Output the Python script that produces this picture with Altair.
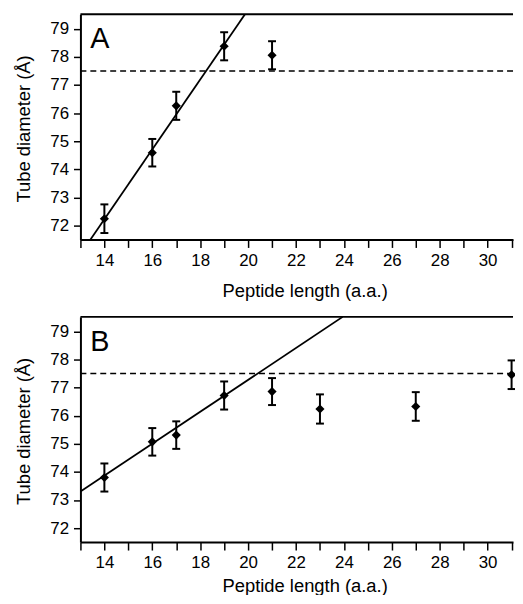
import altair as alt
import pandas as pd

# axis ranges
X_MIN, X_MAX = 13, 31.06
Y_MIN, Y_MAX = 71.5, 79.52

# Panel A
a_len = [14, 16, 17, 19, 21]
a_diam = [72.24, 74.59, 76.26, 78.38, 78.06]
a_err = [0.51, 0.49, 0.50, 0.50, 0.50]
a_fit_len = [13.42, 19.87]
a_fit_diam = [71.5, 79.52]

# Panel B
b_len = [14, 16, 17, 19, 21, 23, 27, 31]
b_diam = [73.80, 75.07, 75.31, 76.72, 76.86, 76.24, 76.33, 77.46]
b_err = [0.50, 0.49, 0.49, 0.50, 0.48, 0.52, 0.51, 0.51]
b_fit_len = [13.0, 23.95]
b_fit_diam = [73.30, 79.52]

plateau = 77.5
x_ticks = list(range(13, 32))
y_ticks = list(range(72, 80))

FONT = "Liberation Sans"
W, H = 436, 227


def panel(letter, lens, diam, err, fit_len, fit_diam, x_title_y):
    pts = pd.DataFrame({
        "len": lens,
        "d": diam,
        "lo": [d - e for d, e in zip(diam, err)],
        "hi": [d + e for d, e in zip(diam, err)],
    })
    fit = pd.DataFrame({"len": fit_len, "d": fit_diam})

    xs = alt.Scale(domain=[X_MIN, X_MAX], nice=False, zero=False)
    ys = alt.Scale(domain=[Y_MIN, Y_MAX], nice=False, zero=False)
    xaxis = alt.Axis(values=x_ticks,
                     labelExpr="datum.value % 2 == 0 ? datum.label : ''",
                     labelOverlap=False,
                     title="Peptide length (a.a.)", titleX=226, titleY=x_title_y,
                     titleAlign="center",
                     tickSize=8, labelPadding=5, grid=False)
    yaxis = alt.Axis(values=y_ticks, title="Tube diameter (Å)", labelOverlap=False,
                     tickCount=8, format="d",
                     titleX=-47, titleY=115, titleAlign="center",
                     tickSize=7, labelPadding=5, grid=False)

    X = alt.X("len:Q", scale=xs, axis=xaxis)

    def Y(field):
        return alt.Y(field, scale=ys, axis=yaxis)

    bars = alt.Chart(pts).mark_rule(color="black", strokeWidth=2).encode(
        x=X, y=Y("lo:Q"), y2="hi:Q")
    cap_lo = alt.Chart(pts).mark_tick(orient="horizontal", size=8, thickness=2,
                                      color="black", opacity=1).encode(
        x=X, y=Y("lo:Q"))
    cap_hi = alt.Chart(pts).mark_tick(orient="horizontal", size=8, thickness=2,
                                      color="black", opacity=1).encode(
        x=X, y=Y("hi:Q"))
    dots = alt.Chart(pts).mark_point(shape="diamond", filled=True, size=85,
                                     color="black", opacity=1).encode(
        x=X, y=Y("d:Q"))
    line = alt.Chart(fit).mark_line(color="black", strokeWidth=1.8, clip=True).encode(
        x=X, y=Y("d:Q"))
    dashed = alt.Chart().mark_rule(color="black", strokeWidth=1.5,
                                   strokeDash=[6, 4]).encode(
        y=alt.YDatum(plateau, scale=ys, axis=yaxis))
    top = alt.Chart().mark_rule(color="black", strokeWidth=2).encode(
        y=alt.YDatum(Y_MAX, scale=ys, axis=yaxis))
    lab = alt.Chart().mark_text(text=letter, fontSize=29, font=FONT,
                                align="left", baseline="alphabetic",
                                color="black").encode(
        x=alt.value(10), y=alt.value(34))

    return alt.layer(dots, line, bars, cap_lo, cap_hi, dashed, top, lab).properties(
        width=W, height=H)


pa = panel("A", a_len, a_diam, a_err, a_fit_len, a_fit_diam, 42)
pb = panel("B", b_len, b_diam, b_err, b_fit_len, b_fit_diam, 35)

chart = alt.vconcat(pa, pb, spacing=78, bounds="flush").properties(
    padding={"left": 6, "top": 3, "right": -2, "bottom": -3}
).configure_view(stroke=None).configure_axis(
    domainColor="black", domainWidth=2, tickColor="black", tickWidth=1.5,
    labelFont=FONT, labelFontSize=17, labelColor="black",
    titleFont=FONT, titleFontSize=18.5, titleFontWeight="normal", titleColor="black"
)

chart.save("out.html", embed_options={"renderer": "svg", "actions": False})
